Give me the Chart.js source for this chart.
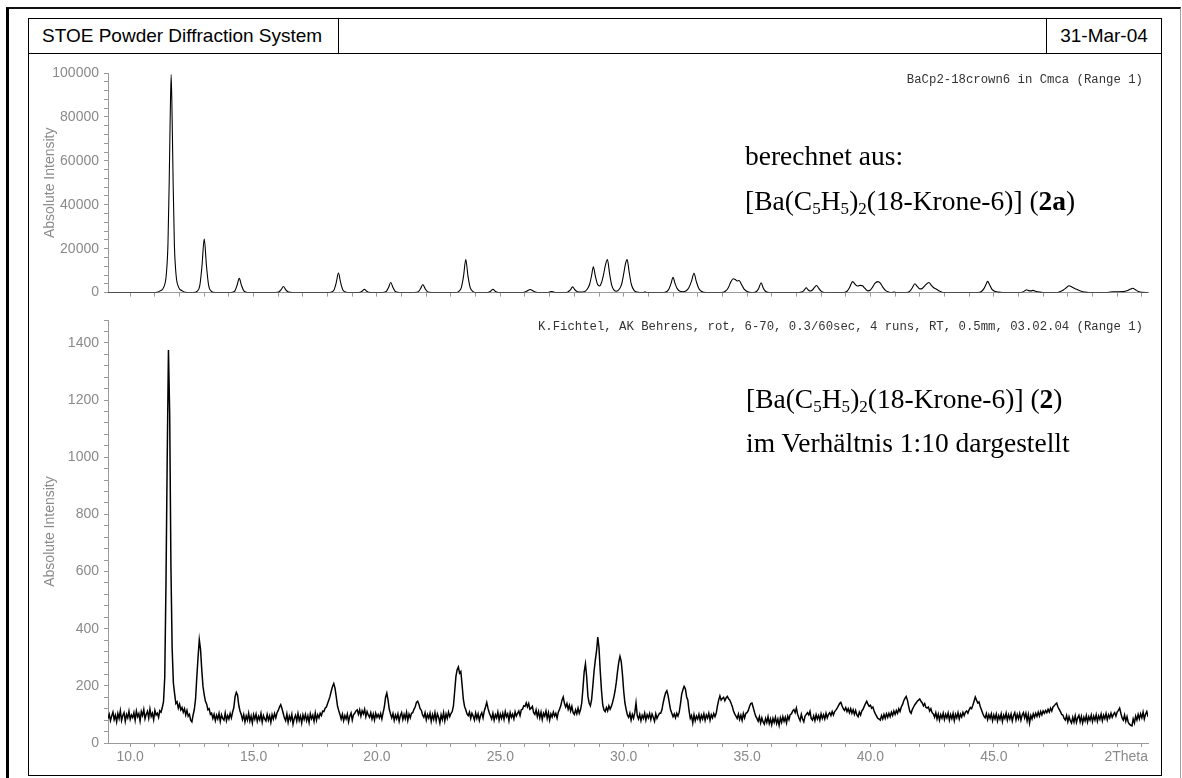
<!DOCTYPE html>
<html>
<head>
<meta charset="utf-8">
<title>STOE Powder Diffraction System</title>
<script src="https://cdn.jsdelivr.net/npm/chart.js@4.4.1/dist/chart.umd.min.js"></script>
<style>
  body { margin: 0; width: 1182px; height: 778px; overflow: hidden; position: relative; background: #fff;
         font-family: "Liberation Sans", Arial, sans-serif; }
  .sheet { position: absolute; left: 6px; top: 7px; width: 1175px; height: 800px; box-sizing: border-box;
           border-left: 3px solid #000; border-top: 2px solid #111; border-right: 1px solid #a0a0a0; }
  .frame { position: absolute; left: 28px; top: 18px; width: 1134px; height: 758px; box-sizing: border-box;
           border: 1px solid #000; }
  .hline { position: absolute; left: 28px; top: 53px; width: 1134px; height: 1px; background: #000; }
  .vline { position: absolute; top: 18px; width: 1px; height: 36px; background: #000; }
  .head { position: absolute; top: 19px; height: 34px; line-height: 34px; font-size: 19px; color: #000; }
  canvas { position: absolute; left: 30px; }
  .range { position: absolute; right: 39px; font: 12.3px "Liberation Mono", "Courier New", monospace;
           line-height: 14px; color: #333; white-space: pre; }
  .note { position: absolute; font-family: "Liberation Serif", "Times New Roman", serif; font-size: 27.5px;
          line-height: 1; color: #000; white-space: nowrap; }
  .note sub { font-size: 0.62em; vertical-align: baseline; position: relative; top: 0.22em; }
</style>
</head>
<body>
<div class="sheet"></div>
<div class="frame"></div>
<div class="hline"></div>
<div class="vline" style="left:338px"></div>
<div class="vline" style="left:1046px"></div>
<div class="head" style="left:42px">STOE Powder Diffraction System</div>
<div class="head" style="left:1047px; width:114px; text-align:center">31-Mar-04</div>

<canvas id="calcChart" width="1130" height="252" style="top:54px"></canvas>
<canvas id="measChart" width="1130" height="469" style="top:306px"></canvas>

<div class="range" style="top:73px">BaCp2-18crown6 in Cmca (Range 1)</div>
<div class="range" style="top:320px">K.Fichtel, AK Behrens, rot, 6-70, 0.3/60sec, 4 runs, RT, 0.5mm, 03.02.04 (Range 1)</div>

<div class="note" style="left:745px; top:142px">berechnet aus:</div>
<div class="note" style="left:745px; top:187px">[Ba(C<sub>5</sub>H<sub>5</sub>)<sub>2</sub>(18-Krone-6)] (<b>2a</b>)</div>
<div class="note" style="left:746px; top:385px">[Ba(C<sub>5</sub>H<sub>5</sub>)<sub>2</sub>(18-Krone-6)] (<b>2</b>)</div>
<div class="note" style="left:746px; top:429px">im Verhältnis 1:10 dargestellt</div>

<script>
// calculated pattern: 2theta (deg) and counts
const calcAngle = [
  9.10, 11.00,
  11.21, 11.36, 11.46, 11.53, 11.58, 11.62, 11.66, 11.70, 11.74, 11.79, 11.86, 11.96, 12.11, 12.31,
  12.55, 12.72, 12.82, 12.91, 13.00, 13.09, 13.18, 13.28, 13.45,
  14.00, 14.15, 14.25, 14.33, 14.42, 14.51, 14.60, 14.70, 14.85,
  15.80, 15.95, 16.04, 16.12, 16.21, 16.30, 16.39, 16.50, 16.65,
  18.00, 18.16, 18.26, 18.35, 18.44, 18.53, 18.62, 18.72, 18.90,
  19.15, 19.32, 19.41, 19.49, 19.57, 19.66, 19.85,
  20.15, 20.30, 20.39, 20.47, 20.56, 20.65, 20.73, 20.83, 21.00,
  21.45, 21.60, 21.69, 21.77, 21.86, 21.95, 22.03, 22.13, 22.30,
  23.15, 23.32, 23.42, 23.51, 23.60, 23.69, 23.78, 23.88, 24.05,
  24.40, 24.53, 24.62, 24.70, 24.78, 24.87, 25.00,
  25.85, 26.00, 26.10, 26.21, 26.32, 26.42, 26.58,
  26.90, 27.00, 27.08, 27.16, 27.26,
  27.60, 27.74, 27.84, 27.93, 28.02, 28.12, 28.25,
  28.40, 28.52, 28.62, 28.70, 28.77, 28.85, 28.94, 29.02, 29.10, 29.18, 29.26, 29.34, 29.43, 29.52, 29.61,
  29.70, 29.82, 29.92, 30.00, 30.07, 30.14, 30.22, 30.31, 30.42, 30.58, 30.72,
  30.80, 30.86, 30.93,
  31.60, 31.75, 31.84, 31.92, 32.00, 32.08, 32.17, 32.28, 32.40,
  32.52, 32.64, 32.75, 32.85, 32.94, 33.04, 33.16, 33.35,
  33.95, 34.12, 34.24, 34.34, 34.44, 34.52, 34.60, 34.68, 34.77, 34.88, 35.02, 35.18,
  35.25, 35.38, 35.47, 35.57, 35.66, 35.76, 35.92,
  37.10, 37.24, 37.32, 37.40, 37.48, 37.58, 37.66, 37.74, 37.82, 37.90, 38.00, 38.15,
  38.90, 39.05, 39.15, 39.28, 39.38, 39.48, 39.58, 39.68, 39.78, 39.90, 40.00,
  40.08, 40.18, 40.30, 40.40, 40.50, 40.62, 40.75, 40.87,
  40.95, 41.05,
  41.45, 41.60, 41.70, 41.80, 41.90, 42.00, 42.10, 42.22, 42.37, 42.47, 42.57, 42.68, 42.80, 42.95,
  44.35, 44.50, 44.60, 44.68, 44.75, 44.83, 44.92, 45.03, 45.15, 45.35,
  46.05, 46.18, 46.26, 46.33, 46.41, 46.50, 46.60, 46.70, 46.85, 47.00,
  47.50, 47.68, 47.82, 47.94, 48.05, 48.16, 48.28, 48.40, 48.52, 48.68, 48.85,
  49.60, 49.72, 49.85, 50.05, 50.25, 50.40, 50.52, 50.63, 50.74, 50.86, 51.00, 51.25
];
const calcCounts = [
  0, 0,
  800, 2500, 7900, 22000, 50000, 79000, 99300, 79000, 50000, 22000, 7900, 2500, 800, 0,
  0, 700, 3200, 12300, 24500, 12300, 3200, 700, 0,
  0, 200, 900, 3300, 6500, 3300, 900, 200, 0,
  0, 100, 400, 1400, 2800, 1400, 400, 100, 0,
  0, 300, 1200, 4500, 8900, 4500, 1200, 300, 0,
  0, 200, 750, 1500, 750, 200, 0,
  0, 200, 700, 2300, 4600, 2300, 700, 200, 0,
  0, 150, 550, 1850, 3700, 1850, 550, 150, 0,
  0, 600, 2300, 7500, 15000, 7500, 2300, 600, 0,
  0, 200, 750, 1500, 750, 200, 0,
  0, 250, 800, 1400, 800, 250, 0,
  0, 250, 450, 250, 0,
  0, 300, 1200, 2600, 1300, 400, 200,
  400, 1500, 3800, 7800, 11800, 7600, 3800, 3000, 4500, 8000, 12500, 15100, 8500, 3200, 1100,
  600, 1500, 4000, 8500, 13000, 15000, 9500, 3800, 1000, 200, 0,
  0, 350, 0,
  0, 500, 1800, 4200, 7000, 4200, 1800, 600, 400,
  700, 2200, 5200, 8800, 5200, 2000, 500, 0,
  0, 600, 2200, 4800, 6300, 6000, 5300, 5500, 3800, 1600, 400, 0,
  0, 500, 1900, 4500, 2000, 500, 0,
  0, 400, 1200, 2200, 1200, 700, 1300, 2500, 3200, 2000, 700, 0,
  0, 600, 2200, 5000, 3800, 3000, 3300, 3100, 1900, 800, 1200,
  2400, 4200, 5000, 4300, 2500, 900, 200, 0,
  300, 0,
  0, 700, 2200, 4000, 2800, 1700, 1900, 3300, 4600, 3300, 2200, 1500, 700, 0,
  0, 500, 1800, 3600, 5100, 3600, 1600, 600, 300, 0,
  0, 300, 800, 1300, 900, 800, 1000, 600, 200, 0,
  0, 400, 1200, 2200, 3100, 2600, 1900, 1300, 700, 200, 0,
  0, 300, 400, 400, 450, 800, 1500, 2000, 1300, 500, 100, 0
];

// measured pattern, one count every 0.05 deg from 9.10 deg
const measStart = 9.10;
const measStep = 0.05;
const measCounts = [
  86, 100, 78, 95, 108, 82, 97, 74, 103, 86, 113, 79, 96, 106, 76, 100, 88, 111, 83, 98,        // 9.1
  89, 106, 80, 112, 92, 103, 77, 110, 96, 117, 85, 101, 111, 87, 119, 93, 104, 82, 114, 98,      // 10.1
  104, 90, 113, 108, 124, 145, 230, 560, 1000, 1375, 1150, 620, 330, 210, 172, 138, 144, 122, 136, 116,
  124, 108, 120, 98, 114, 94, 100, 80, 74, 98, 118, 155, 232, 300, 361, 328, 256, 198, 168, 146,
  136, 116, 120, 100, 104, 86, 100, 78, 97, 84, 103, 76, 99, 86, 80, 105, 78, 96, 84, 103,      // 13.1
  88, 108, 124, 162, 177, 168, 132, 112, 100, 82, 99, 74, 95, 80, 104, 77, 94, 70, 99, 83,
  101, 76, 93, 81, 103, 73, 96, 84, 77, 100, 80, 95, 72, 99, 84, 103, 88, 106, 114, 126,
  134, 121, 104, 88, 78, 101, 72, 94, 80, 100, 66, 86, 97, 77, 103, 79, 94, 70, 98, 82,
  100, 78, 95, 72, 102, 85, 97, 76, 105, 80, 99, 88, 104, 96, 112, 110, 122, 126, 138, 150,     // 17.1
  164, 182, 198, 208, 192, 162, 130, 114, 100, 84, 101, 78, 96, 84, 101, 74, 94, 105, 80, 99,
  104, 112, 116, 100, 116, 94, 113, 102, 118, 92, 110, 98, 90, 106, 84, 101, 80, 104, 90, 100,
  88, 103, 84, 106, 126, 160, 175, 150, 118, 102, 88, 103, 79, 98, 85, 102, 76, 96, 106, 82,
  100, 85, 107, 79, 101, 88, 104, 106, 118, 126, 142, 146, 136, 120, 114, 98, 90, 106, 81, 100, // 21.1
  87, 104, 76, 99, 83, 106, 78, 102, 90, 70, 99, 82, 106, 77, 101, 86, 108, 92, 103, 110,
  130, 180, 232, 256, 266, 244, 250, 204, 154, 128, 116, 102, 96, 108, 86, 104, 94, 80, 105, 86,
  102, 79, 97, 106, 88, 112, 126, 142, 122, 106, 95, 84, 104, 80, 99, 88, 108, 80, 101, 86,
  104, 83, 110, 92, 102, 78, 106, 90, 101, 84, 109, 94, 104, 112, 96, 116, 118, 130, 128, 140,  // 25.1
  126, 138, 118, 122, 128, 106, 100, 116, 92, 110, 88, 108, 82, 104, 94, 112, 86, 106, 80, 102,
  91, 108, 94, 104, 87, 108, 118, 130, 150, 161, 138, 126, 138, 118, 132, 112, 128, 106, 100, 116,
  102, 122, 104, 116, 140, 192, 250, 277, 232, 164, 140, 130, 152, 200, 252, 290, 322, 371, 332, 252,
  184, 134, 116, 110, 124, 112, 130, 118, 128, 142, 160, 182, 212, 250, 282, 303, 286, 240, 182, 140, // 29.1
  118, 98, 90, 104, 80, 100, 87, 106, 140, 96, 84, 100, 78, 97, 86, 104, 80, 99, 88, 103,
  82, 101, 90, 76, 102, 86, 96, 104, 104, 116, 140, 160, 176, 183, 166, 140, 116, 104, 92, 102,
  88, 104, 94, 108, 136, 170, 186, 198, 190, 162, 150, 112, 86, 96, 70, 99, 78, 94, 84, 100,
  78, 97, 84, 102, 79, 98, 87, 104, 80, 99, 88, 103, 92, 104, 130, 150, 165, 150, 156, 160,     // 33.1
  148, 158, 163, 155, 150, 140, 128, 112, 102, 94, 86, 101, 82, 97, 79, 103, 88, 104, 106, 114,
  128, 138, 140, 124, 108, 94, 86, 76, 92, 70, 88, 74, 66, 86, 72, 92, 68, 84, 64, 86,
  72, 90, 68, 84, 62, 88, 72, 92, 76, 90, 70, 94, 82, 100, 102, 112, 117, 106, 122, 100,
  88, 78, 100, 84, 74, 94, 100, 106, 98, 111, 86, 80, 95, 78, 99, 84, 96, 80, 102, 86,          // 37.1
  99, 84, 104, 88, 100, 106, 96, 110, 98, 110, 115, 122, 130, 138, 142, 130, 120, 114, 124, 110,
  120, 106, 120, 104, 116, 100, 114, 98, 92, 108, 98, 112, 118, 128, 138, 146, 136, 128, 132, 122,
  126, 112, 102, 94, 86, 84, 80, 96, 84, 100, 86, 102, 90, 104, 92, 108, 96, 112, 100, 114,
  104, 120, 110, 126, 134, 148, 156, 163, 150, 128, 110, 104, 118, 126, 134, 140, 146, 150, 154, 146, // 41.1
  140, 130, 138, 124, 122, 126, 112, 120, 106, 102, 90, 106, 84, 101, 80, 99, 87, 104, 82, 100,
  88, 105, 80, 99, 85, 103, 78, 100, 88, 106, 84, 101, 91, 107, 96, 108, 112, 104, 116, 124,
  120, 132, 146, 161, 150, 140, 144, 128, 116, 104, 94, 88, 103, 82, 99, 86, 102, 78, 98, 84,
  101, 77, 96, 83, 102, 75, 97, 86, 104, 80, 99, 84, 101, 77, 96, 106, 81, 100, 85, 103,       // 45.1
  80, 98, 106, 88, 104, 78, 100, 70, 96, 84, 102, 90, 104, 93, 108, 94, 110, 98, 112, 104,
  114, 106, 118, 108, 122, 112, 126, 130, 136, 140, 126, 118, 110, 100, 98, 86, 80, 96, 74, 92,
  78, 70, 90, 73, 95, 72, 88, 97, 74, 93, 70, 90, 77, 96, 73, 92, 80, 98, 75, 94,
  80, 99, 76, 95, 83, 101, 78, 97, 85, 103, 81, 99, 88, 104, 90, 100, 106, 94, 108, 114,        // 49.1
  122, 104, 88, 80, 98, 76, 92, 72, 66, 62, 60, 84, 70, 94, 80, 100, 84, 102, 88, 108,
  84, 101, 110, 92
];

// axis ranges and tick labels
const angleMin = 9.1;
const angleMax = 51.25;
const angleLabels = [10, 15, 20, 25, 30, 35, 40, 45];
const calcMax = 100000;
const calcStep = 4000;
const calcLabelStep = 20000;
const measMax = 1480;
const measTickStep = 40;
const measLabelStep = 200;

const axisGrey = '#9a9a9a';
const tickGrey = '#8a8a8a';
const tickFont = { family: '"Liberation Sans", Arial, sans-serif', size: 14 };

const angleTicks = [];
for (let a = 10; a <= 51; a++) {
  angleTicks.push(a);
}

function angleScale(withLabels) {
  return {
    type: 'linear',
    min: angleMin,
    max: angleMax,
    afterBuildTicks: function (scale) {
      scale.ticks = angleTicks.map(v => ({ value: v }));
    },
    afterFit: function (scale) {
      scale.height = withLabels ? 32 : 8;
    },
    grid: { drawOnChartArea: false, color: axisGrey, tickLength: 4 },
    border: { color: axisGrey },
    ticks: {
      autoSkip: false,
      maxRotation: 0,
      padding: 2,
      color: tickGrey,
      font: tickFont,
      callback: v => (withLabels && angleLabels.includes(v)) ? v.toFixed(1) : ''
    }
  };
}

function countScale(max, step, labelStep) {
  return {
    type: 'linear',
    min: 0,
    max: max,
    afterFit: function (scale) {
      scale.width = 78;
    },
    grid: { drawOnChartArea: false, color: axisGrey, tickLength: 4 },
    border: { color: axisGrey },
    title: {
      display: true,
      text: 'Absolute Intensity',
      color: tickGrey,
      font: tickFont,
      padding: { top: 12, bottom: 0 }
    },
    ticks: {
      stepSize: step,
      autoSkip: false,
      padding: 5,
      color: tickGrey,
      font: tickFont,
      callback: v => (v % labelStep === 0) ? String(v) : ''
    }
  };
}

// "2Theta" sits at the right end of the angle axis
const axisCaption = {
  id: 'axisCaption',
  afterDraw(chart) {
    const xs = chart.scales.x;
    const ctx = chart.ctx;
    ctx.save();
    ctx.font = '14px "Liberation Sans", Arial, sans-serif';
    ctx.fillStyle = tickGrey;
    ctx.textAlign = 'right';
    ctx.textBaseline = 'middle';
    ctx.fillText('2Theta', xs.right, xs.top + 4 + 2 + 8.4);
    ctx.restore();
  }
};

const calcPoints = calcAngle.map((a, i) => ({ x: a, y: calcCounts[i] }));
const measPoints = measCounts.map((c, i) => ({ x: +(measStart + i * measStep).toFixed(2), y: c }));

const calcChart = new Chart(document.getElementById('calcChart'), {
  type: 'line',
  data: {
    datasets: [{
      label: 'BaCp2-18crown6 in Cmca',
      data: calcPoints,
      borderColor: '#000',
      borderWidth: 1.1,
      pointRadius: 0,
      fill: false,
      cubicInterpolationMode: 'monotone'
    }]
  },
  options: {
    responsive: false,
    animation: false,
    devicePixelRatio: 1,
    layout: { padding: { top: 19, right: 12, left: 0, bottom: 0 } },
    plugins: { legend: { display: false }, tooltip: { enabled: false } },
    scales: {
      x: angleScale(false),
      y: countScale(calcMax, calcStep, calcLabelStep)
    }
  }
});

const measChart = new Chart(document.getElementById('measChart'), {
  type: 'line',
  data: {
    datasets: [{
      label: 'K.Fichtel, AK Behrens',
      data: measPoints,
      borderColor: '#000',
      borderWidth: 1.5,
      pointRadius: 0,
      fill: false,
      tension: 0
    }]
  },
  options: {
    responsive: false,
    animation: false,
    devicePixelRatio: 1,
    layout: { padding: { top: 14, right: 12, left: 0, bottom: 0 } },
    plugins: { legend: { display: false }, tooltip: { enabled: false } },
    scales: {
      x: angleScale(true),
      y: countScale(measMax, measTickStep, measLabelStep)
    }
  },
  plugins: [axisCaption]
});
</script>
</body>
</html>
